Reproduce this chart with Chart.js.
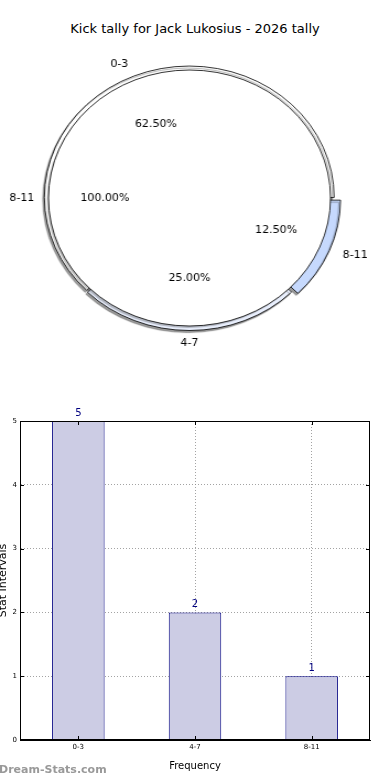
<!DOCTYPE html>
<html>
<head>
<meta charset="utf-8">
<script src="https://cdn.jsdelivr.net/npm/chart.js@4.4.1/dist/chart.umd.min.js"></script>
<style>
    body { margin: 0; background: #fff; width: 390px; height: 780px; overflow: hidden; position: relative; font-family: "DejaVu Sans", sans-serif; }
    #title { position: absolute; top: 21px; left: 0; width: 390px; text-align: center; font-size: 13px; color: #000; }
    .pie { position: absolute; top: 0; left: 0; }
    #barChart { position: absolute; top: 400px; left: 0; }
    #mark { position: absolute; top: 763px; left: -1px; font-size: 11px; color: #999; font-weight: bold; }
</style>
</head>
<body>
<div id="title">Kick tally for Jack Lukosius - 2026 tally</div>
<canvas id="pieOuter" class="pie" width="354" height="370" style="width:390px;height:370px"></canvas>
<canvas id="pieInner" class="pie" width="354" height="370" style="width:390px;height:370px"></canvas>
<canvas id="barChart" width="390" height="380" style="width:390px;height:380px"></canvas>
<div id="mark">Dream-Stats.com</div>

<script>
// data
const categories = ['0-3', '4-7', '8-11'];
const counts = [5, 2, 1];
const percentLabels = ['62.50%', '25.00%', '12.50%'];
const innerLabels = ['8-11'];
const innerValues = [1];
const innerPercent = ['100.00%'];
const yTicks = [0, 1, 2, 3, 4, 5];

// pie is stretched sideways to look like the original ellipse
const SX = 390 / 354;

// matplotlib goes counter-clockwise from the east, chart.js goes clockwise,
// so the slices are fed in reverse
const pieCats = categories.slice().reverse();
const pieVals = counts.slice().reverse();
const piePct = percentLabels.slice().reverse();

function shadowPlugin(alpha) {
    return {
        id: 'shadow',
        beforeDatasetsDraw(chart) {
            const ctx = chart.ctx;
            ctx.save();
            ctx.shadowColor = 'rgba(0,0,0,' + alpha + ')';
            ctx.shadowOffsetX = -1.5;
            ctx.shadowOffsetY = 2;
            ctx.shadowBlur = 1;
        },
        afterDatasetsDraw(chart) {
            chart.ctx.restore();
        }
    };
}

// how far chart.js actually pushes a slice out for a given offset
function shiftOf(arc) {
    const off = (arc.options.offset || 0) / 4;
    const circ = arc.endAngle - arc.startAngle;
    const fix = 1 - Math.sin(Math.min(Math.PI, circ));
    return off + off * fix;
}

function drawPieText(ctx, chart, names, pcts) {
    const arcs = chart.getDatasetMeta(0).data;
    ctx.save();
    ctx.font = '11px "DejaVu Sans"';
    ctx.fillStyle = '#000';
    ctx.textBaseline = 'middle';
    arcs.forEach((arc, i) => {
        const mid = (arc.startAngle + arc.endAngle) / 2;
        const off = shiftOf(arc);
        const r = arc.outerRadius;
        const c = Math.cos(mid), s = Math.sin(mid);
        const rl = r * 1.1 + off;
        ctx.save();
        ctx.translate(arc.x + c * rl, arc.y + s * rl);
        ctx.scale(1 / SX, 1);
        ctx.textAlign = c > 0.1 ? 'left' : (c < -0.1 ? 'right' : 'center');
        ctx.fillText(names[i], 0, 0);
        ctx.restore();
        const rp = r * 0.6 + off;
        ctx.save();
        ctx.translate(arc.x + c * rp, arc.y + s * rp);
        ctx.scale(1 / SX, 1);
        ctx.textAlign = 'center';
        ctx.fillText(pcts[i], 0, 0);
        ctx.restore();
    });
    ctx.restore();
}

const pieLayout = { padding: { left: 0, right: 10, top: 26, bottom: 0 } };

const outerChart = new Chart(document.getElementById('pieOuter'), {
    type: 'pie',
    data: {
        labels: pieCats,
        datasets: [{
            data: pieVals,
            backgroundColor: ['#c6d9fd', '#e9effd', '#ffffff'],
            borderColor: '#000',
            borderWidth: 0.8,
            offset: [20, 6, 2]
        }]
    },
    options: {
        responsive: false,
        animation: false,
        radius: 131,
        rotation: 90,
        layout: pieLayout,
        plugins: { legend: { display: false }, tooltip: { enabled: false } }
    },
    plugins: [shadowPlugin(0.4)]
});

// outline of the inner disc, without the radius line chart.js adds
const innerOutline = {
    id: 'innerOutline',
    afterDatasetsDraw(chart) {
        const ctx = chart.ctx;
        const arc = chart.getDatasetMeta(0).data[0];
        ctx.save();
        ctx.strokeStyle = '#000';
        ctx.lineWidth = 0.8;
        ctx.beginPath();
        ctx.arc(arc.x, arc.y, arc.outerRadius, 0, Math.PI * 2);
        ctx.stroke();
        ctx.restore();
    },
    afterDraw(chart) {
        drawPieText(chart.ctx, outerChart, pieCats, piePct);
        drawPieText(chart.ctx, chart, innerLabels, innerPercent);
    }
};

new Chart(document.getElementById('pieInner'), {
    type: 'pie',
    data: {
        labels: innerLabels,
        datasets: [{
            data: innerValues,
            backgroundColor: '#ffffff',
            borderWidth: 0
        }]
    },
    options: {
        responsive: false,
        animation: false,
        radius: 128,
        rotation: 90,
        layout: pieLayout,
        plugins: { legend: { display: false }, tooltip: { enabled: false } }
    },
    plugins: [shadowPlugin(0.25), innerOutline]
});

// bar chart
const valueLabels = {
    id: 'valueLabels',
    afterDatasetsDraw(chart) {
        const ctx = chart.ctx;
        ctx.save();
        ctx.font = '10px "DejaVu Sans"';
        ctx.fillStyle = '#000080';
        ctx.textAlign = 'center';
        ctx.textBaseline = 'bottom';
        chart.getDatasetMeta(0).data.forEach((bar, i) => {
            ctx.fillText(String(counts[i]), bar.x, bar.y - 3);
        });
        ctx.restore();
    }
};

const frame = {
    id: 'frame',
    afterDraw(chart) {
        const ctx = chart.ctx;
        const a = chart.chartArea;
        const xs = chart.scales.x, ys = chart.scales.y;
        ctx.save();
        ctx.strokeStyle = '#000';
        ctx.lineWidth = 1;
        ctx.strokeRect(a.left + 0.5, a.top + 0.5, a.right - a.left - 1, a.bottom - a.top - 1);
        ctx.beginPath();
        yTicks.forEach(v => {
            const y = Math.round(ys.getPixelForValue(v)) + 0.5;
            ctx.moveTo(a.left, y); ctx.lineTo(a.left + 4, y);
            ctx.moveTo(a.right, y); ctx.lineTo(a.right - 4, y);
        });
        categories.forEach((c, i) => {
            const x = Math.round(xs.getPixelForTick(i)) + 0.5;
            ctx.moveTo(x, a.bottom); ctx.lineTo(x, a.bottom - 4);
            ctx.moveTo(x, a.top); ctx.lineTo(x, a.top + 4);
        });
        ctx.stroke();
        ctx.restore();
    }
};

new Chart(document.getElementById('barChart'), {
    type: 'bar',
    data: {
        labels: categories,
        datasets: [{
            data: counts,
            backgroundColor: 'rgba(204,204,228,1)',
            borderColor: '#000080',
            borderWidth: 1,
            barPercentage: 0.45,
            categoryPercentage: 1
        }]
    },
    options: {
        responsive: false,
        animation: false,
        layout: { padding: { left: 0, right: 20, top: 21, bottom: 0 } },
        plugins: { legend: { display: false }, tooltip: { enabled: false } },
        scales: {
            x: {
                afterFit: s => { s.height = 40; },
                grid: { offset: false, drawTicks: false, color: 'rgba(140,140,140,0.8)' },
                border: { color: '#000', dash: [1, 2] },
                ticks: { color: '#000', font: { size: 7, family: 'DejaVu Sans' }, padding: 3 },
                title: { display: true, text: 'Frequency', color: '#000', font: { size: 10, family: 'DejaVu Sans' }, padding: { top: 0, bottom: 8 } }
            },
            y: {
                min: 0,
                max: 5,
                afterFit: s => { s.width = 20; },
                afterBuildTicks: s => { s.ticks = yTicks.map(v => ({ value: v })); },
                grid: { drawTicks: false, color: 'rgba(140,140,140,0.8)' },
                border: { color: '#000', dash: [1, 2] },
                ticks: { color: '#000', font: { size: 7, family: 'DejaVu Sans' }, padding: 3 },
                title: { display: true, text: 'Stat Intervals', color: '#000', font: { size: 11, family: 'DejaVu Sans' }, padding: { top: -3, bottom: 0 } }
            }
        }
    },
    plugins: [valueLabels, frame]
});
</script>
</body>
</html>
